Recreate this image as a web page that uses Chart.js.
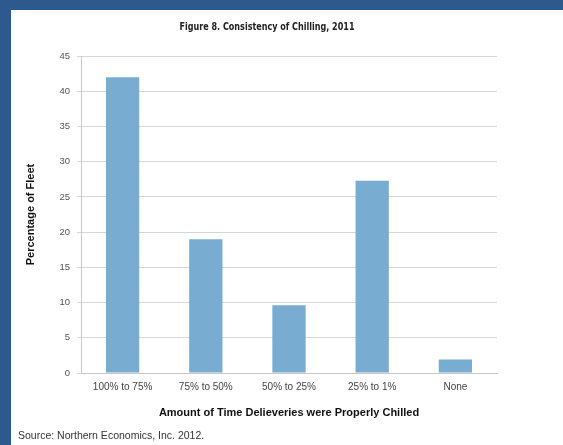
<!DOCTYPE html>
<html>
<head>
<meta charset="utf-8">
<script src="https://cdn.jsdelivr.net/npm/chart.js@4"></script>
<style>
    html, body { margin: 0; padding: 0; }
    body { width: 563px; height: 445px; background: #2c5a8f; position: relative; overflow: hidden; }
    #panel { position: absolute; left: 11px; top: 10px; width: 552px; height: 435px; background: #ffffff; }
</style>
</head>
<body>
<div id="panel"><canvas id="chartChilling" width="552" height="435"></canvas></div>
<script>

// ================= DATI =================

const categorie = ["100% to 75%", "75% to 50%", "50% to 25%", "25% to 1%", "None"];
const percentuali = [42, 19, 9.6, 27.3, 1.9];
const tickY = [0, 5, 10, 15, 20, 25, 30, 35, 40, 45];

const titolo = "Figure 8. Consistency of Chilling, 2011";
const titoloX = "Amount of Time Delieveries were Properly Chilled";
const titoloY = "Percentage of Fleet";
const fonte = "Source: Northern Economics, Inc. 2012.";

// ================= TESTI EXTRA =================

const testiExtra = {
    id: "testiExtra",
    afterDraw(chart) {
        const ctx = chart.ctx;
        ctx.save();
        ctx.fillStyle = "#222222";
        ctx.textBaseline = "middle";
        ctx.textAlign = "center";
        // titolo stretto (condensed)
        ctx.font = "bold 11px 'DejaVu Sans Condensed', 'Liberation Sans', sans-serif";
        const w = ctx.measureText(titolo).width;
        const k = 175 / w;
        ctx.translate(256, 17);
        ctx.scale(k, 1);
        ctx.fillText(titolo, 0, 0);
        ctx.setTransform(1, 0, 0, 1, 0, 0);
        ctx.textAlign = "left";
        ctx.fillStyle = "#333333";
        ctx.font = "10.5px 'Liberation Sans', Arial, sans-serif";
        ctx.fillText(fonte, 7, 426);
        ctx.restore();
    }
};

// ================= GRAFICO =================

const ctxChilling = document.getElementById("chartChilling").getContext("2d");

new Chart(ctxChilling, {

    type: "bar",

    data: {
        labels: categorie,
        datasets: [{
            data: percentuali,
            backgroundColor: "#78acd0",
            categoryPercentage: 1,
            barPercentage: 0.4
        }]
    },

    options: {
        responsive: false,
        animation: false,
        layout: {
            padding: { top: 46, right: 66, left: 0, bottom: 0 }
        },
        plugins: {
            legend: { display: false },
            title: { display: false },
            tooltip: { enabled: false }
        },
        scales: {
            x: {
                grid: { display: false, drawTicks: false },
                border: { display: true, color: "#c8c8c8" },
                ticks: {
                    color: "#444444",
                    padding: 8,
                    font: { family: "'Liberation Sans', Arial, sans-serif", size: 10 }
                },
                title: {
                    display: true,
                    text: titoloX,
                    color: "#111111",
                    padding: { top: 25, bottom: 25 },
                    font: { family: "'Liberation Sans', Arial, sans-serif", size: 11, weight: "bold" }
                },
                afterFit(scale) { scale.height = 72; }
            },
            y: {
                min: 0,
                max: 45,
                afterBuildTicks(scale) { scale.ticks = tickY.map(v => ({ value: v })); },
                grid: { color: "#d6d6d6", tickLength: 4 },
                border: { display: true, color: "#c8c8c8" },
                ticks: {
                    color: "#555555",
                    padding: 7,
                    font: { family: "'Liberation Sans', Arial, sans-serif", size: 9.5 }
                },
                title: {
                    display: true,
                    text: titoloY,
                    color: "#111111",
                    padding: { top: 13, bottom: 13 },
                    font: { family: "'Liberation Sans', Arial, sans-serif", size: 11, weight: "bold" }
                },
                afterFit(scale) { scale.width = 70; }
            }
        }
    },

    plugins: [testiExtra]

});

</script>
</body>
</html>
